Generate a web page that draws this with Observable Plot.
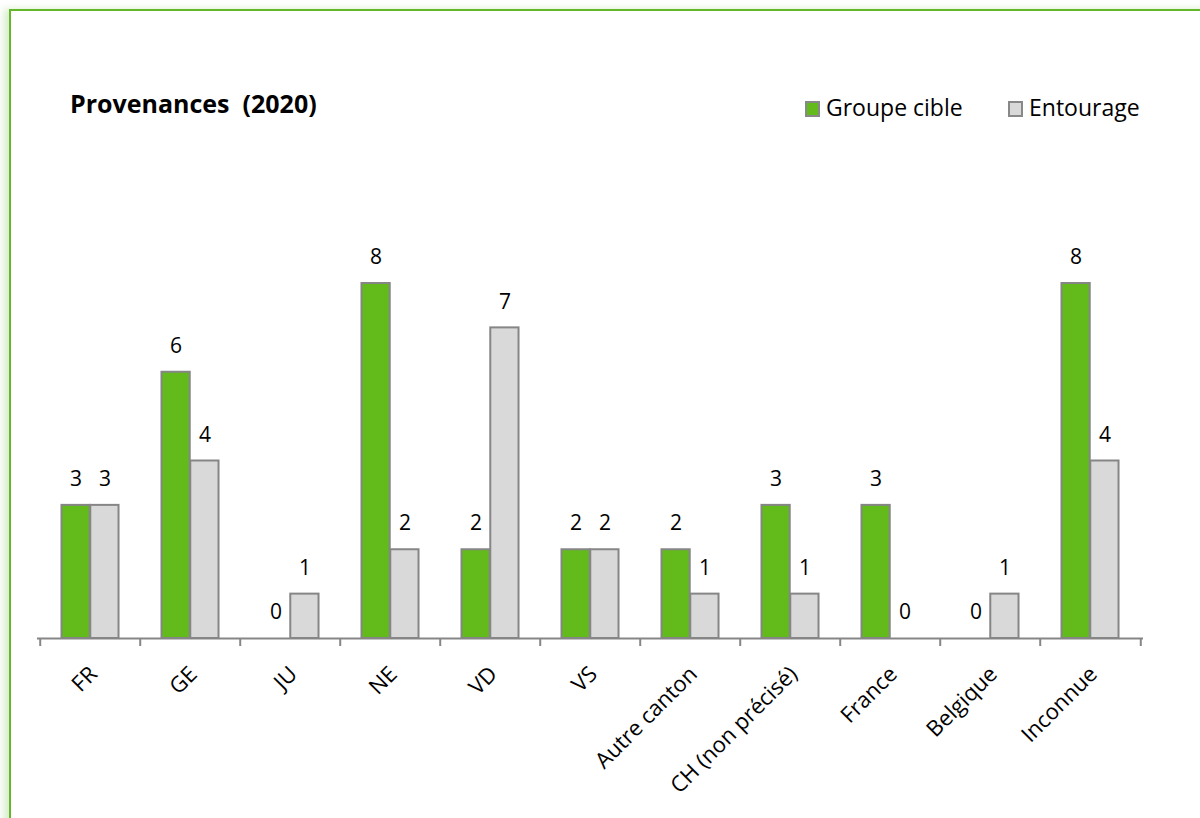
<!DOCTYPE html>
<html>
<head>
<meta charset="utf-8">
<script src="https://cdn.jsdelivr.net/npm/d3@7"></script>
<script src="https://cdn.jsdelivr.net/npm/@observablehq/plot@0.6"></script>
<style>
  html, body { margin: 0; padding: 0; background: #fff; overflow: hidden; }
  body { width: 1200px; height: 818px; position: relative; font-family: "Open Sans", sans-serif; }
  #frame { position: absolute; left: 9px; top: 9px; width: 1400px; height: 1000px; border: 2px solid #63b82a; box-shadow: -5px 0 7px rgba(99,184,42,0.25); }
  #chart { position: absolute; left: 0; top: 0; }
  #title { position: absolute; left: 70px; top: 91px; font-size: 25px; line-height: 1; font-weight: bold; color: #000; white-space: pre; }
  .item { position: absolute; top: 96px; font-size: 23px; line-height: 1; color: #000; display: flex; align-items: center; white-space: pre; }
  .sw { display: inline-block; box-sizing: border-box; width: 15px; height: 16px; border: 2px solid #888; margin-right: 6px; margin-top: 2px; }
</style>
</head>
<body>
<div id="frame"></div>
<div id="chart"></div>
<div id="title">Provenances  (2020)</div>
<script>
const categories = ["FR","GE","JU","NE","VD","VS","Autre canton","CH (non précisé)","France","Belgique","Inconnue"];
const groupeCible = [3,6,0,8,2,2,2,3,3,0,8];
const entourage = [3,4,1,2,7,2,1,1,0,1,4];
const seriesNames = ["Groupe cible","Entourage"];
const seriesColors = ["#62bb1b","#d9d9d9"];

const rows = categories.map((c, i) => ({cat: c, g: groupeCible[i], e: entourage[i]}));

const W = 1200, H = 818, mL = 37, mR = 57, mT = 283, mB = 180;
const step = (W - mL - mR) / categories.length;
const barW = 28.8;
const half = step / 2;
const font = "'Open Sans', sans-serif";

const plot = Plot.plot({
  width: W, height: H,
  marginLeft: mL, marginRight: mR, marginTop: mT, marginBottom: mB,
  style: {fontFamily: font, background: "transparent"},
  x: {domain: categories, padding: 0, axis: null},
  y: {domain: [0, 8], axis: null},
  marks: [
    Plot.barY(rows, {x: "cat", y: "g", fill: seriesColors[0], stroke: "#868686", strokeWidth: 2, insetLeft: half - barW, insetRight: half}),
    Plot.barY(rows, {x: "cat", y: "e", fill: seriesColors[1], stroke: "#868686", strokeWidth: 2, insetLeft: half, insetRight: half - barW}),
    Plot.ruleY([0], {stroke: "#868686", strokeWidth: 2}),
    Plot.ruleX(categories, {x: d => d, y1: 0, y2: 0, insetTop: 8, dx: -half, stroke: "#868686", strokeWidth: 2}),
    Plot.ruleX(categories.slice(-1), {x: d => d, y1: 0, y2: 0, insetTop: 8, dx: half, stroke: "#868686", strokeWidth: 2}),
    Plot.text(rows, {x: "cat", y: "g", text: d => String(d.g), dx: -barW / 2, dy: -26, fontSize: 21, fill: "#000"}),
    Plot.text(rows, {x: "cat", y: "e", text: d => String(d.e), dx: barW / 2, dy: -26, fontSize: 21, fill: "#000"}),
    Plot.axisX({domain: categories, label: null, tickSize: 0, tickPadding: 32, tickRotate: -45, fontSize: 22, fill: "#000", dx: 3})
  ]
});
document.getElementById("chart").appendChild(plot);

const legendLefts = [805, 1008];
seriesNames.forEach((n, i) => {
  const item = document.createElement("div");
  item.className = "item";
  item.style.left = legendLefts[i] + "px";
  const sw = document.createElement("span");
  sw.className = "sw";
  sw.style.background = seriesColors[i];
  item.appendChild(sw);
  item.appendChild(document.createTextNode(n));
  document.body.appendChild(item);
});
</script>
</body>
</html>
